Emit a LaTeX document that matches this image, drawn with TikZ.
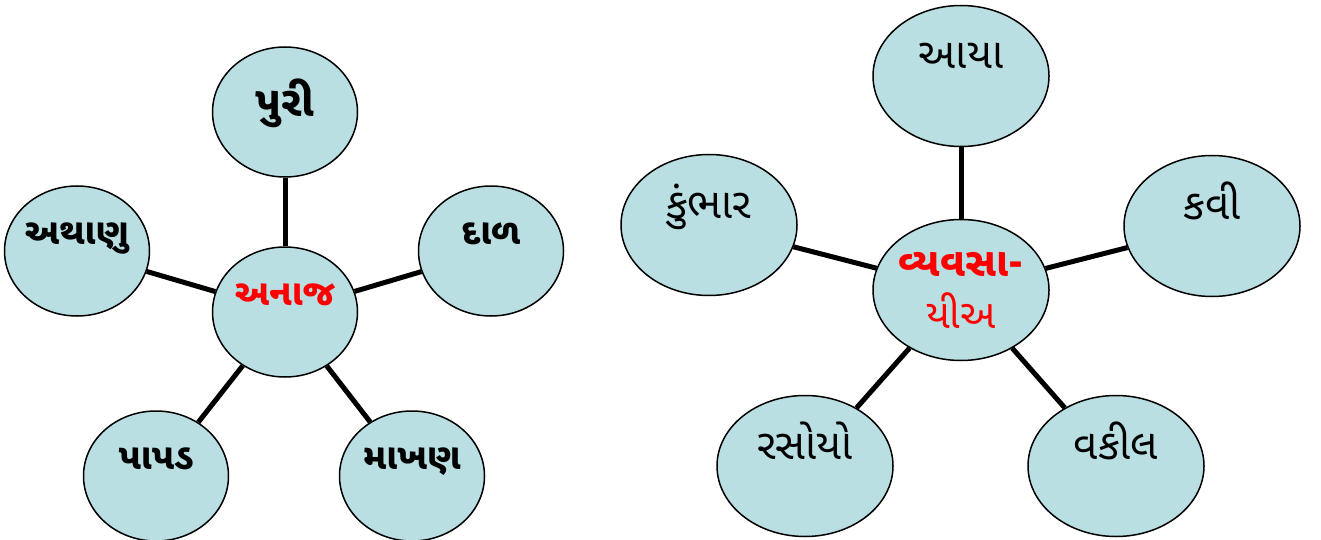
\documentclass[tikz,border=0pt]{standalone}
\usepackage{fontspec}
\usetikzlibrary{shapes.geometric}
\newfontfamily\gujfont[Script=Gujarati]{Noto Sans Gujarati UI}
\definecolor{bubble}{RGB}{185,223,227}
\tikzset{
  leaf/.style={draw, ellipse, fill=bubble, line width=1.5pt, inner ysep=0pt, inner xsep=-20pt,
    minimum width=145pt, minimum height=130pt, text height=20pt, text depth=34pt,
    font=\gujfont\bfseries\fontsize{36}{40}\selectfont},
  job/.style={draw, ellipse, fill=bubble, line width=1.5pt, inner ysep=0pt, inner xsep=-20pt,
    minimum width=176pt, minimum height=141pt, text height=20pt, text depth=34pt,
    font=\gujfont\fontsize{42}{46}\selectfont},
  spoke/.style={line width=5pt}
}
\begin{document}
\begin{tikzpicture}[x=1pt,y=1pt]
\useasboundingbox (0,0) rectangle (1321,-540);
% grains
\node (anaj) [leaf, text=red] at (285,-312) {અનાજ};
\node (puri) [leaf, node distance=200pt, above of=anaj, text depth=10pt, font=\gujfont\bfseries\fontsize{42}{46}\selectfont] {પુરી};
\node (athanu) [leaf, node distance=208pt, left of=anaj, yshift=61pt] {અથાણુ};
\node (daal) [leaf, node distance=206pt, right of=anaj, yshift=61pt] {દાળ};
\node (papad) [leaf, node distance=129pt, left of=anaj, yshift=-164pt] {પાપડ};
\node (makhan) [leaf, node distance=127pt, right of=anaj, yshift=-164pt] {માખણ};
\draw [spoke] (anaj)--(puri);
\draw [spoke] (anaj)--(athanu);
\draw [spoke] (anaj)--(daal);
\draw [spoke] (anaj)--(papad);
\draw [spoke] (anaj)--(makhan);
% jobs
\node (vyavsay) [job, text=red, align=center, text height=, text depth=, font=\gujfont\fontsize{40}{52}\selectfont] at (961,-290) {{\bfseries વ્યવસા-}\\યીઅ};
\node (aaya) [job, node distance=214pt, above of=vyavsay] {આયા};
\node (kumbhar) [job, node distance=252pt, left of=vyavsay, yshift=65pt] {કુંભાર};
\node (kavi) [job, node distance=251pt, right of=vyavsay, yshift=64pt] {કવી};
\node (rasoyo) [job, node distance=156pt, left of=vyavsay, yshift=-176pt] {રસોયો};
\node (vakil) [job, node distance=155pt, right of=vyavsay, yshift=-176pt] {વકીલ};
\draw [spoke] (vyavsay)--(aaya);
\draw [spoke] (vyavsay)--(kumbhar);
\draw [spoke] (vyavsay)--(kavi);
\draw [spoke] (vyavsay)--(rasoyo);
\draw [spoke] (vyavsay)--(vakil);
\end{tikzpicture}
\end{document}
